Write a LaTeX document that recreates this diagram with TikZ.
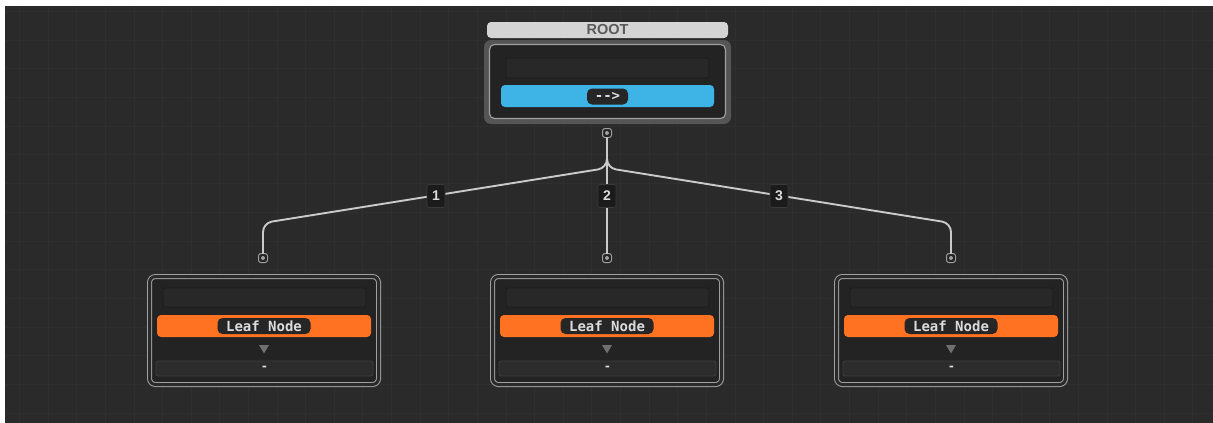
\documentclass[tikz,border=0pt]{standalone}
\usepackage{fontspec}
\setmainfont{Liberation Sans}
\newfontfamily\codefont{DejaVu Sans Mono}
\usetikzlibrary{calc}

\definecolor{canvas}{HTML}{2A2A2A}
\definecolor{gridline}{HTML}{2F2F2F}
\definecolor{wirecol}{HTML}{CACACA}
\definecolor{framegray}{HTML}{555555}
\definecolor{rimgray}{HTML}{A0A0A0}
\definecolor{panel}{HTML}{232323}
\definecolor{fieldfill}{HTML}{282828}
\definecolor{fieldedge}{HTML}{1C1C1C}
\definecolor{skyblue}{HTML}{3DB3E6}
\definecolor{leaforange}{HTML}{FF7222}
\definecolor{pillfill}{HTML}{262626}
\definecolor{pilltext}{HTML}{DCDCDC}
\definecolor{titlefill}{HTML}{D4D4D4}
\definecolor{titletext}{HTML}{5A5A5A}
\definecolor{tagfill}{HTML}{1B1B1B}
\definecolor{tagedge}{HTML}{3A3A3A}
\definecolor{arrowgray}{HTML}{707070}
\definecolor{barfill}{HTML}{2C2C2C}
\definecolor{baredge}{HTML}{3E3E3E}

\tikzset{
  box/.style={rectangle, inner sep=0pt, outer sep=0pt},
  titlebar/.style={box, fill=titlefill, rounded corners=4pt,
    minimum width=241pt, minimum height=16pt, text=titletext,
    font=\bfseries\fontsize{14.5}{15}\selectfont},
  rootframe/.style={box, fill=framegray, rounded corners=7pt,
    minimum width=247pt, minimum height=84pt},
  rootinner/.style={box, fill=panel, draw=rimgray, line width=1.1pt,
    rounded corners=5pt, minimum width=236pt, minimum height=74pt},
  leafframe/.style={box, fill=panel, draw=rimgray, line width=1pt,
    double=canvas, double distance=3pt, rounded corners=6pt,
    minimum width=229pt, minimum height=108pt},
  field/.style={box, fill=fieldfill, draw=fieldedge, line width=0.8pt,
    rounded corners=2pt, minimum width=203pt, minimum height=20pt},
  bluebar/.style={box, fill=skyblue, rounded corners=4pt,
    minimum width=213pt, minimum height=22pt},
  orangebar/.style={box, fill=leaforange, rounded corners=4pt,
    minimum width=214pt, minimum height=22pt},
  pill/.style={box, fill=pillfill, rounded corners=5pt, text=pilltext,
    minimum height=16pt, font=\codefont\bfseries\fontsize{14}{15}\selectfont},
  outbar/.style={box, fill=barfill, draw=baredge, line width=0.8pt,
    rounded corners=2pt, minimum width=217pt, minimum height=15pt,
    text=pilltext, font=\codefont\bfseries\fontsize{12}{12}\selectfont},
  port/.style={box, fill=panel, draw=rimgray, line width=1pt,
    minimum width=9pt, minimum height=9pt, rounded corners=2.5pt,
    path picture={\fill[gray!75] (path picture bounding box.center) circle (2pt);}},
  wire/.style={draw=wirecol, line width=1.9pt},
  tag/.style={box, fill=tagfill, draw=tagedge, line width=0.6pt, rounded corners=1.5pt,
    minimum width=18pt, minimum height=23pt, text=pilltext,
    font=\bfseries\fontsize{14}{15}\selectfont},
}

\begin{document}
\begin{tikzpicture}[x=1pt, y=-1pt]
  \useasboundingbox (0,0) rectangle (1213,423);
  \fill[white] (0,0) rectangle (1213,423);
  % canvas with faint grid
  \fill[canvas] (5,6) rectangle (1213,423);
  \begin{scope}
    \clip (5,6) rectangle (1213,423);
    \foreach \k in {-1,...,41} {
      \draw[gridline, line width=0.7pt] ({48+28.62*\k},6) -- ({48+28.62*\k},423);
    }
    \foreach \k in {-2,...,14} {
      \draw[gridline, line width=0.7pt] (5,{40+28.7*\k}) -- (1213,{40+28.7*\k});
    }
  \end{scope}

  % root node
  \node[rootframe] (root) at (607.5,82) {};
  \node[rootinner] (rootin) at (607.5,81.5) {};
  \node[titlebar] (roottitle) at (607.5,30) {ROOT};
  \node[field] (rootfield) at (607.5,68) {};
  \node[bluebar] (rootbar) at (607.5,96) {};
  \node[pill, minimum width=41pt] (rootpill) at (607.5,96.5) {-{}->};
  \node[port] (p0) at (607,133) {};

  % leaf nodes
  \foreach \n/\cx in {A/264, B/607, C/951} {
    \node[leafframe] (leaf\n) at (\cx,330.5) {};
    \node[field, minimum height=19pt] (field\n) at (\cx+0.5,297.5) {};
    \node[orangebar] (bar\n) at (\cx,326) {};
    \node[pill, minimum width=93pt] (pill\n) at (\cx,326) {Leaf Node};
    \fill[arrowgray] (\cx-5,345) -- (\cx+5,345) -- (\cx,353.5) -- cycle;
    \node[outbar] (out\n) at (\cx+0.5,368.5) {-};
  }
  \node[port] (pA) at (263,258) {};
  \node[port] (pB) at (607,258) {};
  \node[port] (pC) at (951,258) {};

  % branch wires
  \coordinate (fork) at (607,168);
  \coordinate (elbowA) at (263,223);
  \coordinate (elbowC) at (951,223);
  \draw[wire, rounded corners=9pt] (p0.south) -- (fork) -- (elbowA) -- (pA.north);
  \draw[wire, rounded corners=9pt] (p0.south) -- (fork) -- (elbowC) -- (pC.north);
  \draw[wire] (p0.south) -- (pB.north);

  % branch tags
  \node[tag] (tag1) at (436,196) {1};
  \node[tag] (tag2) at (607,196) {2};
  \node[tag] (tag3) at (779,196) {3};
\end{tikzpicture}
\end{document}
